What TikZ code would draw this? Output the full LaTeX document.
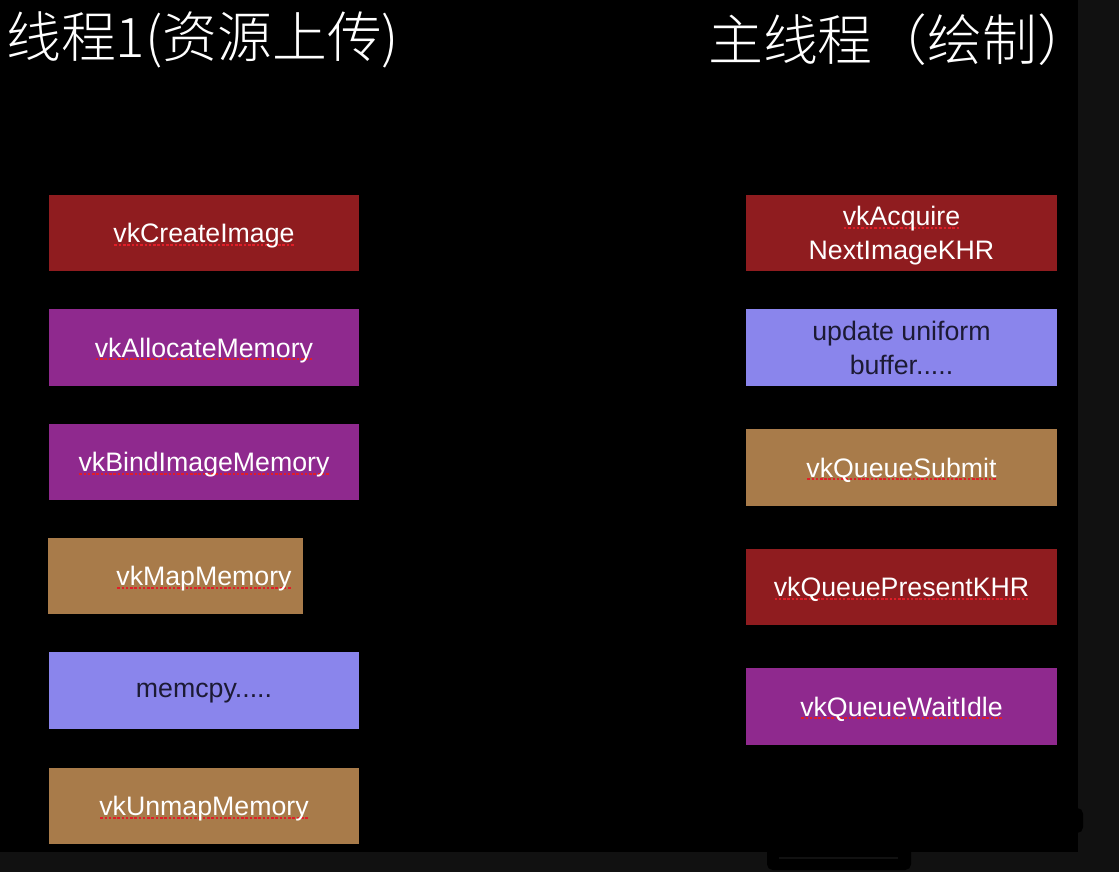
\documentclass[tikz,border=0pt]{standalone}
\usepackage{fontspec}
\setmainfont{Liberation Sans}
\newfontfamily\cjk{Noto Sans CJK SC}[UprightFont={* Light}]
\usetikzlibrary{positioning}
\definecolor{redc}{RGB}{143,28,31}
\definecolor{purplec}{RGB}{143,41,142}
\definecolor{brownc}{RGB}{168,123,74}
\definecolor{bluec}{RGB}{138,133,236}
\definecolor{inkc}{RGB}{28,26,52}
\definecolor{squigc}{RGB}{225,30,40}
\definecolor{edgec}{RGB}{17,17,17}
\newsavebox{\squigbox}
\newcommand{\squig}[1]{\sbox{\squigbox}{#1}%
  \rlap{\lower2.2pt\hbox to\wd\squigbox{\xleaders\hbox{\kern0.6pt\textcolor{squigc}{\rule{1.8pt}{1.3pt}}\kern0.6pt}\hfill}}%
  \usebox{\squigbox}}

\begin{document}
\begin{tikzpicture}[
  x=0.025cm, y=-0.025cm,
  font=\fontsize{19}{24}\selectfont,
  call/.style={minimum width=7.75cm, minimum height=1.9cm, inner sep=0pt, text depth=0pt, align=center, text=white},
  title/.style={font=\cjk\fontsize{39}{44}\selectfont, text=white, anchor=west, inner sep=0pt}
]
\fill[edgec] (0,0) rectangle (1119,872);
\fill[black] (0,0) rectangle (1078,852);
\fill[black, rounded corners=4pt] (767,835) rectangle (911,870);
\draw[edgec, line width=2pt] (779,858) -- (898,858);
\fill[black, rounded corners=4pt] (1010,808) rectangle (1083,833);

\node[title] (upload) at (6,40) {线程1(资源上传)};
\node[title] (render) at (708,40) {主线程（绘制）};

% thread 1: resource upload
\node[call, fill=redc] (create) at (204,233) {\squig{vkCreateImage}};
\node[call, fill=purplec] (alloc) at (204,347.5) {\squig{vkAllocateMemory}};
\node[call, fill=purplec] (bind) at (204,462) {\squig{vkBindImageMemory}};
\node[call, fill=brownc, minimum width=6.375cm] (map) at (175.5,576)
  {\hspace*{1.425cm}\squig{vkMapMemory}};
\node[call, fill=bluec, text=inkc] (copy) at (204,690.5) {memcpy.....};
\node[call, fill=brownc] (unmap) at (204,806) {\squig{vkUnmapMemory}};

% main thread: drawing
\node[call, fill=redc] (acquire) at (901.5,233)
  {\squig{vkAcquire}\\NextImageKHR};
\node[call, fill=bluec, text=inkc] (uniform) at (901.5,347.5)
  {update uniform\\buffer.....};
\node[call, fill=brownc] (submit) at (901.5,467.5) {\squig{vkQueueSubmit}};
\node[call, fill=redc] (present) at (901.5,587) {\squig{vkQueuePresentKHR}};
\node[call, fill=purplec] (wait) at (901.5,706.5) {\squig{vkQueueWaitIdle}};
\end{tikzpicture}
\end{document}
